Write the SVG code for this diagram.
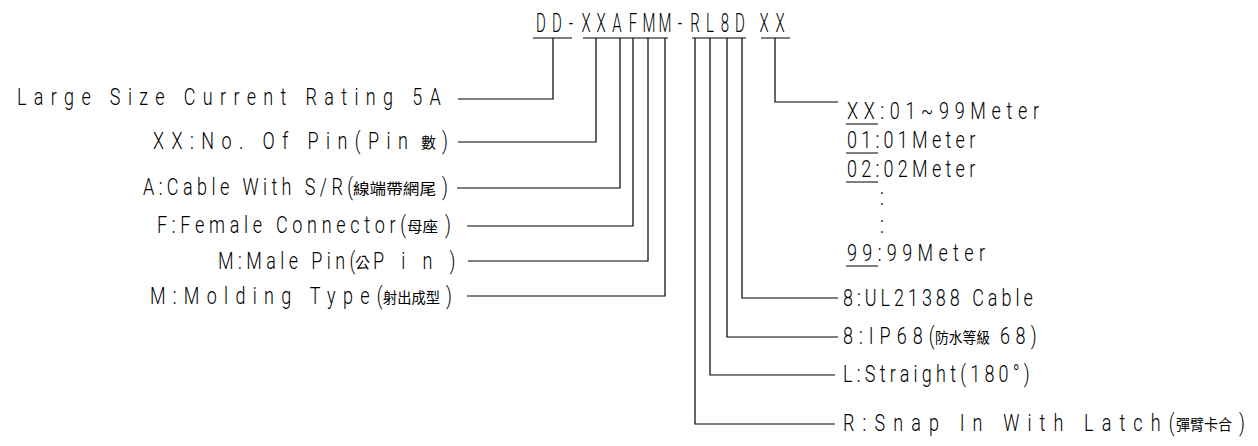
<svg xmlns="http://www.w3.org/2000/svg" width="1258" height="446" viewBox="0 0 1258 446">
<style>
.t{font-family:Roboto,"Liberation Sans",sans-serif;font-weight:300;font-size:24px;fill:#000}
.c{font-family:"Noto Sans CJK TC","Noto Sans CJK SC",sans-serif;font-size:15px;fill:#000}
.code{font-family:Roboto,"Liberation Sans",sans-serif;font-weight:300;font-size:25px;fill:#000;text-anchor:middle}
.ln{fill:none;stroke:#000;stroke-width:1.2}
</style>
<rect width="1258" height="446" fill="#fff"/>
<g id="code">
<text class="code" transform="scale(0.6,1)" x="901.7 928.3 951.7 976.7 1001.7 1028.3 1055 1081.7 1108.3 1133.3 1158.3 1183.3 1208.3 1233.3 1273.3 1300" y="32">DD-XXAFMM-RL8DXX</text>
<path class="ln" d="M533,38H572M583,38H668M692,38H746M761,38H790"/>
</g>
<g id="connectors">
<path class="ln" d="M553,38V99H458"/>
<path class="ln" d="M596,38V142H458"/>
<path class="ln" d="M620,38V188H457"/>
<path class="ln" d="M633,38V226H467"/>
<path class="ln" d="M648,38V261H468"/>
<path class="ln" d="M665,38V296H467"/>
<path class="ln" d="M695,38V424H835"/>
<path class="ln" d="M710,38V375H835"/>
<path class="ln" d="M727,38V337H838"/>
<path class="ln" d="M742,38V298H838"/>
<path class="ln" d="M775,38V102H838"/>
</g>
<g id="n-large"><text class="t" transform="translate(17,105) scale(0.75,1)" textLength="565" lengthAdjust="spacing">Large Size Current Rating 5A</text></g>
<g id="n-pins">
<text class="t" transform="translate(153,149) scale(0.75,1)" textLength="340" lengthAdjust="spacing">XX:No. Of Pin(Pin</text>
<text class="c" x="421" y="148" textLength="15" lengthAdjust="spacingAndGlyphs">數</text>
<text class="t" transform="translate(442,149) scale(0.75,1)">)</text>
</g>
<g id="n-cable">
<text class="t" transform="translate(143,195) scale(0.75,1)" textLength="280" lengthAdjust="spacing">A:Cable With S/R(</text>
<text class="c" x="353" y="194" textLength="83" lengthAdjust="spacingAndGlyphs">線端帶網尾</text>
<text class="t" transform="translate(442,195) scale(0.75,1)">)</text>
</g>
<g id="n-female">
<text class="t" transform="translate(157,233) scale(0.75,1)" textLength="332" lengthAdjust="spacing">F:Female Connector(</text>
<text class="c" x="407" y="232" textLength="31" lengthAdjust="spacingAndGlyphs">母座</text>
<text class="t" transform="translate(445,233) scale(0.75,1)">)</text>
</g>
<g id="n-male">
<text class="t" transform="translate(218,269) scale(0.75,1)" textLength="183" lengthAdjust="spacing">M:Male Pin(</text>
<text class="c" x="355" y="268" textLength="15" lengthAdjust="spacingAndGlyphs">公</text>
<text class="t" transform="translate(373,269) scale(0.75,1)" textLength="110" lengthAdjust="spacing">Pin)</text>
</g>
<g id="n-molding">
<text class="t" transform="translate(150,304) scale(0.75,1)" textLength="310" lengthAdjust="spacing">M:Molding Type(</text>
<text class="c" x="383" y="303" textLength="57" lengthAdjust="spacingAndGlyphs">射出成型</text>
<text class="t" transform="translate(446,304) scale(0.75,1)">)</text>
</g>
<g id="n-length">
<text class="t" transform="translate(847,119) scale(0.75,1)" textLength="256" lengthAdjust="spacing">XX:01~99Meter</text>
<text class="t" transform="translate(847,148) scale(0.75,1)" textLength="171" lengthAdjust="spacing">01:01Meter</text>
<text class="t" transform="translate(847,177) scale(0.75,1)" textLength="171" lengthAdjust="spacing">02:02Meter</text>
<text class="t" transform="translate(880,205) scale(0.75,1)">:</text>
<text class="t" transform="translate(880,233) scale(0.75,1)">:</text>
<text class="t" transform="translate(847,261) scale(0.75,1)" textLength="184" lengthAdjust="spacing">99:99Meter</text>
<path class="ln" d="M846,124H878M846,153H878M846,182H878M846,266H878"/>
</g>
<g id="n-ul"><text class="t" transform="translate(843,306) scale(0.75,1)" textLength="253" lengthAdjust="spacing">8:UL21388 Cable</text></g>
<g id="n-ip">
<text class="t" transform="translate(843,344) scale(0.75,1)" textLength="122" lengthAdjust="spacing">8:IP68(</text>
<text class="c" x="935" y="343" textLength="55" lengthAdjust="spacingAndGlyphs">防水等級</text>
<text class="t" transform="translate(1000,344) scale(0.75,1)" textLength="49" lengthAdjust="spacing">68)</text>
</g>
<g id="n-straight"><text class="t" transform="translate(843,382) scale(0.75,1)" textLength="249" lengthAdjust="spacing">L:Straight(180°)</text></g>
<g id="n-snap">
<text class="t" transform="translate(843,431) scale(0.75,1)" textLength="442" lengthAdjust="spacing">R:Snap In With Latch(</text>
<text class="c" x="1176" y="430" textLength="56" lengthAdjust="spacingAndGlyphs">彈臂卡合</text>
<text class="t" transform="translate(1239,431) scale(0.75,1)">)</text>
</g>
</svg>
